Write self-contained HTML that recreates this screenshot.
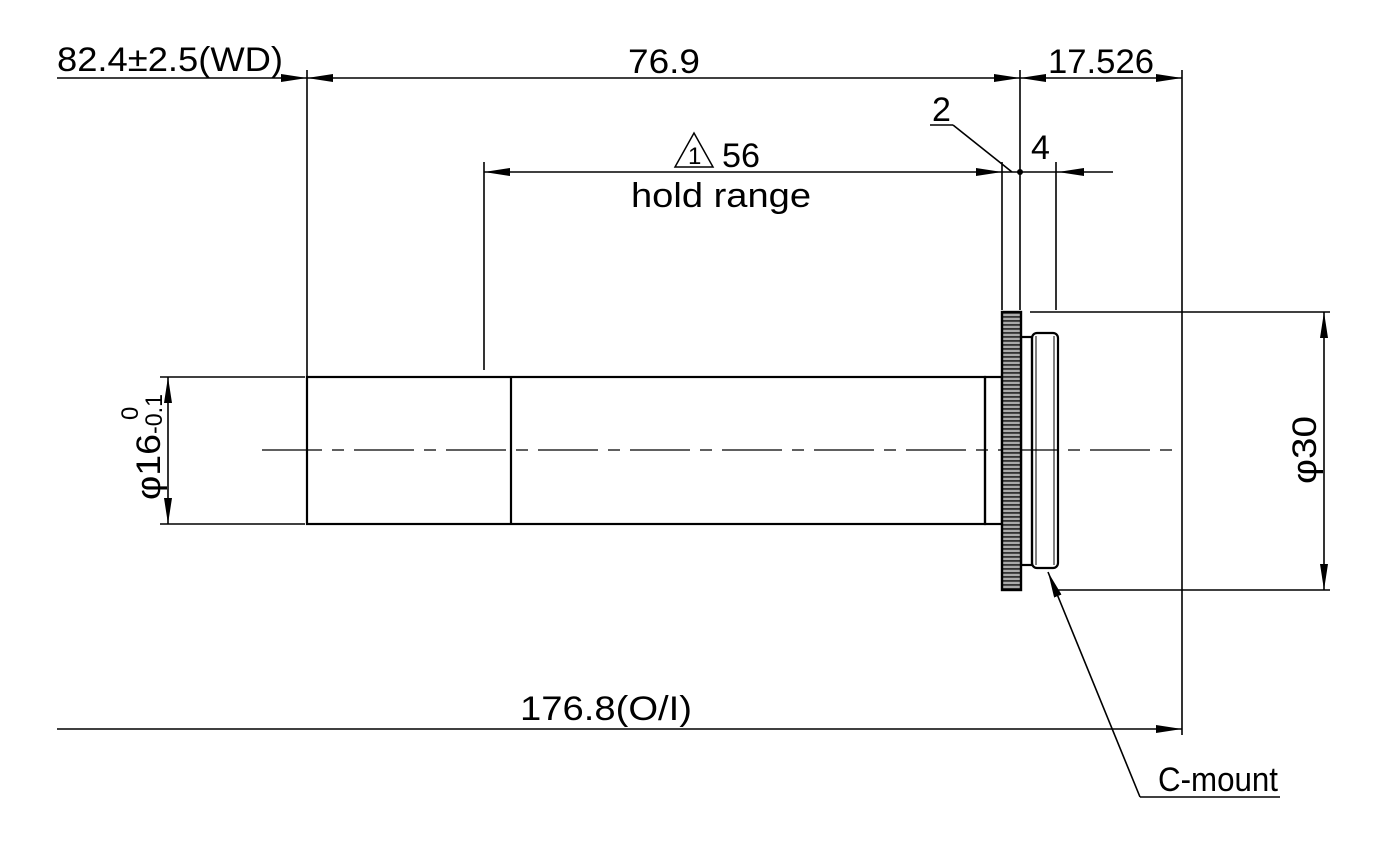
<!DOCTYPE html>
<html><head><style>body{margin:0;background:#fff}svg{display:block}text{font-family:"Liberation Sans","Noto Sans CJK JP",sans-serif;font-size:34px;fill:#000}</style></head><body>
<svg width="1382" height="846" viewBox="0 0 1382 846" xmlns="http://www.w3.org/2000/svg">
<defs>
<marker id="a" viewBox="0 0 26 8" refX="26" refY="4" markerWidth="26" markerHeight="8" markerUnits="userSpaceOnUse" orient="auto-start-reverse"><path d="M0,0 L26,4 L0,8 z" fill="#000"/></marker>
<pattern id="k" width="4" height="4" patternUnits="userSpaceOnUse"><rect width="4" height="4" fill="#aaa"/><rect width="4" height="1.8" fill="#333"/></pattern>
</defs>
<g stroke="#000" stroke-width="1.6" fill="none">
<line x1="307" y1="70" x2="307" y2="377"/>
<line x1="1020" y1="70" x2="1020" y2="310"/>
<line x1="1182" y1="70" x2="1182" y2="735"/>
<line x1="484" y1="162" x2="484" y2="370"/>
<line x1="1002" y1="162" x2="1002" y2="310"/>
<line x1="1056" y1="162" x2="1056" y2="310"/>
<line x1="160" y1="377" x2="305" y2="377"/>
<line x1="160" y1="524" x2="305" y2="524"/>
<line x1="1030" y1="312" x2="1330" y2="312"/>
<line x1="1058" y1="590" x2="1330" y2="590"/>
<line x1="57" y1="78" x2="307" y2="78" marker-end="url(#a)"/>
<line x1="307" y1="78" x2="1020" y2="78" marker-start="url(#a)" marker-end="url(#a)"/>
<line x1="1020" y1="78" x2="1182" y2="78" marker-start="url(#a)" marker-end="url(#a)"/>
<line x1="484" y1="172" x2="1002" y2="172" marker-start="url(#a)" marker-end="url(#a)"/>
<line x1="1002" y1="172" x2="1058" y2="172"/>
<line x1="1058" y1="172" x2="1113" y2="172" marker-start="url(#a)"/>
<line x1="930" y1="125" x2="953" y2="125"/>
<line x1="953" y1="125" x2="1012" y2="172"/>
<line x1="57" y1="729" x2="1182" y2="729" marker-end="url(#a)"/>
<line x1="168" y1="377" x2="168" y2="524" marker-start="url(#a)" marker-end="url(#a)"/>
<line x1="1324" y1="312" x2="1324" y2="590" marker-start="url(#a)" marker-end="url(#a)"/>
<line x1="262" y1="450" x2="1182" y2="450" stroke-dasharray="60,10,12,10" stroke-width="1.2"/>
<polyline points="1140,797 1280,797"/>
<line x1="1140" y1="797" x2="1048" y2="572" marker-end="url(#a)"/>
</g>
<circle cx="1020" cy="172" r="3"/>
<g stroke="#000" stroke-width="2.2" fill="none">
<rect x="307" y="377" width="678" height="147"/>
<line x1="511" y1="377" x2="511" y2="524"/>
<rect x="985" y="377" width="17" height="147"/>
<rect x="1021" y="337" width="11" height="228"/>
<rect x="1032" y="333" width="26" height="235" rx="5"/>
<line x1="1036" y1="336" x2="1036" y2="565" stroke-width="1"/>
<line x1="1054" y1="336" x2="1054" y2="565" stroke-width="1"/>
</g>
<rect x="1002" y="312" width="19" height="278" fill="url(#k)" stroke="#000" stroke-width="2.4"/>
<text x="57" y="71" textLength="226" lengthAdjust="spacingAndGlyphs">82.4±2.5(WD)</text>
<text x="628" y="73" textLength="72" lengthAdjust="spacingAndGlyphs">76.9</text>
<text x="1048" y="73" textLength="106" lengthAdjust="spacingAndGlyphs">17.526</text>
<path d="M675,167 L694,133 L713,167 z" fill="none" stroke="#000" stroke-width="1.5"/>
<text x="688" y="164" style="font-size:24px">1</text>
<text x="722" y="167" textLength="38" lengthAdjust="spacingAndGlyphs">56</text>
<text x="631" y="207" textLength="180" lengthAdjust="spacingAndGlyphs">hold range</text>
<text x="932" y="121">2</text>
<text x="1031" y="159">4</text>
<text x="520" y="720" textLength="172" lengthAdjust="spacingAndGlyphs">176.8(O/I)</text>
<text x="1158" y="791" textLength="120" lengthAdjust="spacingAndGlyphs">C-mount</text>
<text transform="translate(1316,484) rotate(-90)" textLength="68" lengthAdjust="spacingAndGlyphs">φ30</text>
<text transform="translate(160,500) rotate(-90)" textLength="66" lengthAdjust="spacingAndGlyphs">φ16</text>
<text transform="translate(162,434) rotate(-90)" style="font-size:24px" textLength="40" lengthAdjust="spacingAndGlyphs">-0.1</text>
<text transform="translate(138,420) rotate(-90)" style="font-size:24px">0</text>
</svg>
</body></html>
